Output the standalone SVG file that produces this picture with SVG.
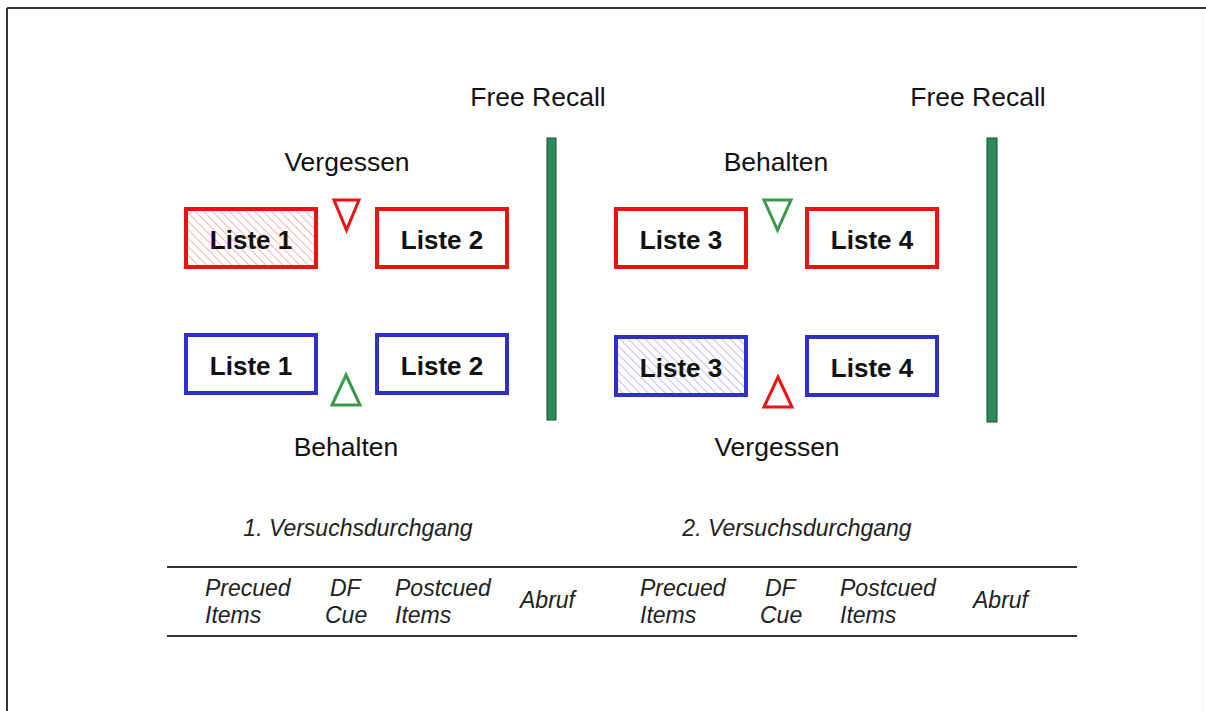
<svg xmlns="http://www.w3.org/2000/svg" width="1206" height="711" viewBox="0 0 1206 711">
  <defs>
    <pattern id="hatchRed" width="6" height="6" patternUnits="userSpaceOnUse" patternTransform="rotate(-45)">
      <rect width="6" height="6" fill="#ffffff"/>
      <line x1="0" y1="0" x2="0" y2="6" stroke="#f3b8b8" stroke-width="2.2"/>
    </pattern>
    <pattern id="hatchBlue" width="6" height="6" patternUnits="userSpaceOnUse" patternTransform="rotate(-45)">
      <rect width="6" height="6" fill="#ffffff"/>
      <line x1="0" y1="0" x2="0" y2="6" stroke="#c4c4ee" stroke-width="2.2"/>
    </pattern>
  </defs>
  <style>
    .red { fill: #ffffff; stroke: #ee1111; stroke-width: 4; }
    .blue { fill: #ffffff; stroke: #3030c8; stroke-width: 4; }
    .box-label { font-family: "Liberation Sans", Arial, sans-serif; font-size: 26px; font-weight: bold; fill: #111111; text-anchor: middle; }
    .head { font-family: "Liberation Sans", Arial, sans-serif; font-size: 26.5px; fill: #111111; text-anchor: middle; }
    .ital { font-family: "Liberation Sans", Arial, sans-serif; font-size: 23px; font-style: italic; fill: #222222; }
    .bar { fill: #2a8a5a; stroke: #1e4a34; stroke-width: 1; }
    .tri-red { fill: none; stroke: #ee1111; stroke-width: 3; stroke-linejoin: miter; }
    .tri-green { fill: none; stroke: #3a9a4a; stroke-width: 3; stroke-linejoin: miter; }
    .rule { stroke: #333333; stroke-width: 2; }
  </style>

  <rect width="1206" height="711" fill="#ffffff"/>

  <!-- page frame -->
  <g id="frame">
    <line x1="7" y1="8" x2="1206" y2="8" stroke="#333333" stroke-width="2"/>
    <line x1="7" y1="8" x2="7" y2="711" stroke="#333333" stroke-width="2"/>
    <line x1="1203" y1="10" x2="1203" y2="711" stroke="#efefef" stroke-width="1"/>
  </g>

  <!-- first trial -->
  <g id="trial1">
    <text class="head" x="538" y="106">Free Recall</text>
    <text class="head" x="347" y="171">Vergessen</text>
    <text class="head" x="346" y="456">Behalten</text>

    <g id="t1-list1-red">
      <rect x="186" y="209" width="130" height="58" fill="url(#hatchRed)" stroke="#ee1111" stroke-width="4"/>
      <text class="box-label" x="251" y="249">Liste 1</text>
    </g>
    <g id="t1-list2-red">
      <rect class="red" x="377" y="209" width="130" height="58"/>
      <text class="box-label" x="442" y="249">Liste 2</text>
    </g>
    <g id="t1-list1-blue">
      <rect class="blue" x="186" y="335" width="130" height="58"/>
      <text class="box-label" x="251" y="375">Liste 1</text>
    </g>
    <g id="t1-list2-blue">
      <rect class="blue" x="377" y="335" width="130" height="58"/>
      <text class="box-label" x="442" y="375">Liste 2</text>
    </g>

    <polygon id="t1-cue-forget" class="tri-red" points="334,200 359,200 346.5,230"/>
    <polygon id="t1-cue-remember" class="tri-green" points="346,375 360,405 332,405"/>

    <rect id="t1-recall-bar" class="bar" x="547" y="138" width="9" height="282"/>
  </g>

  <!-- second trial -->
  <g id="trial2">
    <text class="head" x="978" y="106">Free Recall</text>
    <text class="head" x="776" y="171">Behalten</text>
    <text class="head" x="777" y="456">Vergessen</text>

    <g id="t2-list3-red">
      <rect class="red" x="616" y="209" width="130" height="58"/>
      <text class="box-label" x="681" y="249">Liste 3</text>
    </g>
    <g id="t2-list4-red">
      <rect class="red" x="807" y="209" width="130" height="58"/>
      <text class="box-label" x="872" y="249">Liste 4</text>
    </g>
    <g id="t2-list3-blue">
      <rect x="616" y="337" width="130" height="58" fill="url(#hatchBlue)" stroke="#3030c8" stroke-width="4"/>
      <text class="box-label" x="681" y="377">Liste 3</text>
    </g>
    <g id="t2-list4-blue">
      <rect class="blue" x="807" y="337" width="130" height="58"/>
      <text class="box-label" x="872" y="377">Liste 4</text>
    </g>

    <polygon id="t2-cue-remember" class="tri-green" points="764,200 791,200 777.5,230"/>
    <polygon id="t2-cue-forget" class="tri-red" points="778,377 792,407 764,407"/>

    <rect id="t2-recall-bar" class="bar" x="987" y="138" width="10" height="284"/>
  </g>

  <!-- timeline legend -->
  <g id="timeline">
    <text class="ital" x="358" y="536" text-anchor="middle">1. Versuchsdurchgang</text>
    <text class="ital" x="797" y="536" text-anchor="middle">2. Versuchsdurchgang</text>

    <line class="rule" x1="167" y1="567" x2="1077" y2="567"/>
    <line class="rule" x1="167" y1="636" x2="1077" y2="636"/>

    <text class="ital" x="205" y="596">Precued</text>
    <text class="ital" x="205" y="623">Items</text>
    <text class="ital" x="330" y="596">DF</text>
    <text class="ital" x="325" y="623">Cue</text>
    <text class="ital" x="395" y="596">Postcued</text>
    <text class="ital" x="395" y="623">Items</text>
    <text class="ital" x="520" y="608">Abruf</text>

    <text class="ital" x="640" y="596">Precued</text>
    <text class="ital" x="640" y="623">Items</text>
    <text class="ital" x="765" y="596">DF</text>
    <text class="ital" x="760" y="623">Cue</text>
    <text class="ital" x="840" y="596">Postcued</text>
    <text class="ital" x="840" y="623">Items</text>
    <text class="ital" x="973" y="608">Abruf</text>
  </g>
</svg>
